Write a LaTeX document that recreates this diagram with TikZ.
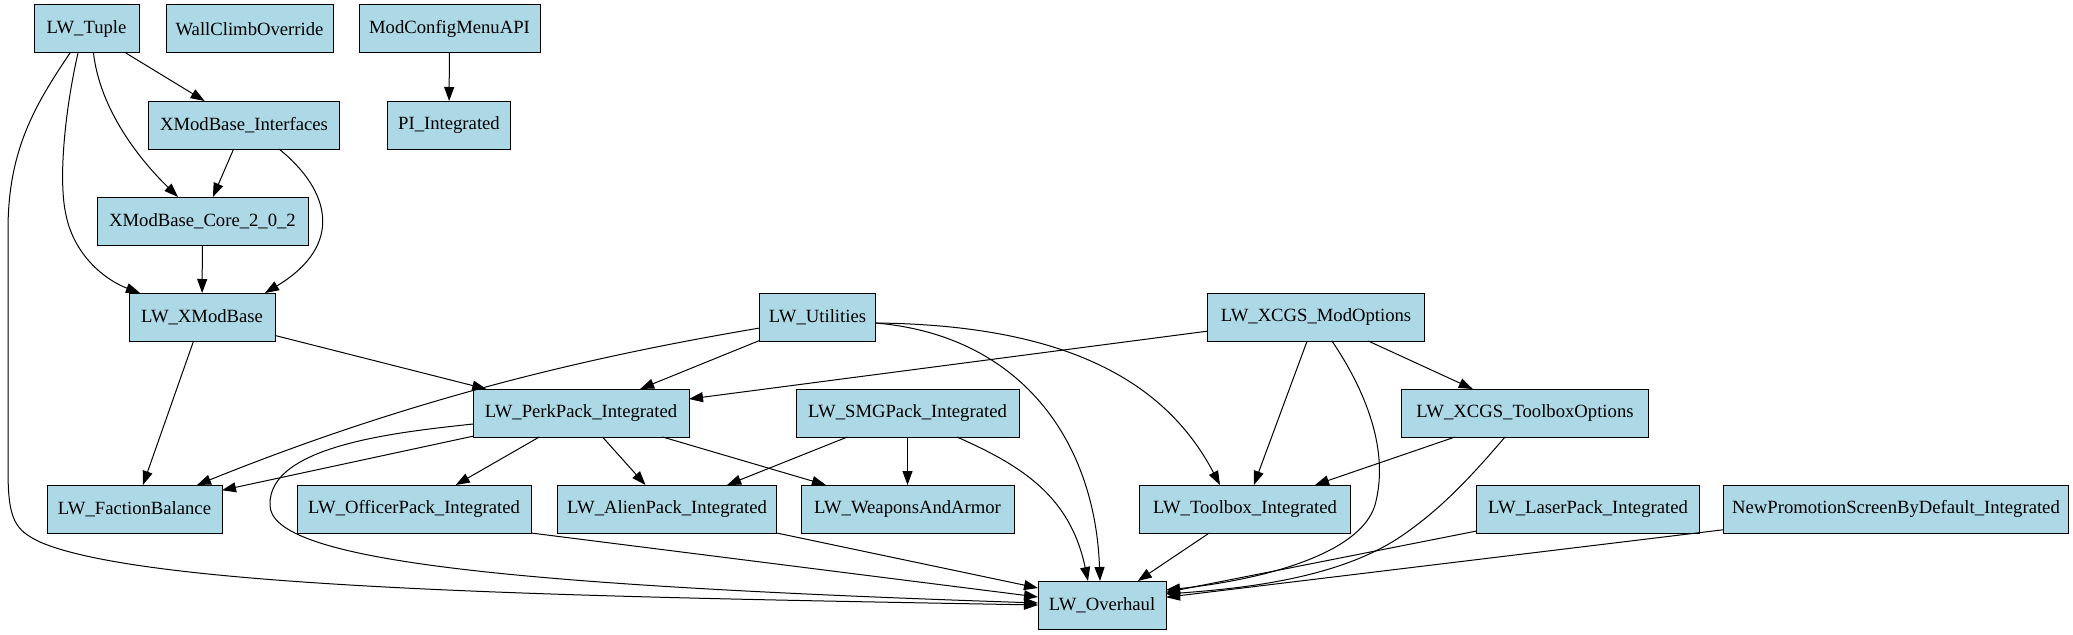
\documentclass[tikz,border=0pt]{standalone}
\usepackage{fontspec}
\setmainfont{Liberation Serif}
\usepackage{tikz}
\usetikzlibrary{
  calc,          % Offsets from anchors: ($(a.south)+(7,0)$)
  arrows.meta    % Graphviz-like filled arrow heads
}
\definecolor{nodeblue}{RGB}{173,216,230}
\tikzset{
  box/.style={draw, fill=nodeblue, line width=0.75pt, minimum width=#1*0.75pt,
    minimum height=36pt, inner xsep=2pt, inner ysep=0pt, outer sep=0pt,
    font=\fontsize{14}{16}\selectfont},
  dep/.style={-{Triangle[length=10.5pt,width=7.5pt]}, line width=0.75pt}
}

\begin{document}
\begin{tikzpicture}[x=0.75pt,y=-0.75pt]
        \useasboundingbox (0,0) rectangle (2073,635);

        % Packages (rank by rank)
        \node[box=105] (tuple) at (86.5,29) {LW\_Tuple};
        \node[box=167] (wallclimb) at (249.5,29) {WallClimbOverride};
        \node[box=181] (mcm) at (449.5,29) {ModConfigMenuAPI};
        \node[box=190.5] (interfaces) at (244,125) {XModBase\_Interfaces};
        \node[box=122.5] (pi) at (449,125) {PI\_Integrated};
        \node[box=211] (core) at (202.5,221) {XModBase\_Core\_2\_0\_2};
        \node[box=146] (xmodbase) at (202,317) {LW\_XModBase};
        \node[box=115.5] (utilities) at (817.5,317) {LW\_Utilities};
        \node[box=217.5] (modoptions) at (1316,317) {LW\_XCGS\_ModOptions};
        \node[box=216] (perkpack) at (581,413) {LW\_PerkPack\_Integrated};
        \node[box=223] (smgpack) at (907.5,413) {LW\_SMGPack\_Integrated};
        \node[box=247] (tbxoptions) at (1525,413) {LW\_XCGS\_ToolboxOptions};
        \node[box=175] (faction) at (134.5,509) {LW\_FactionBalance};
        \node[box=234] (officer) at (414,509) {LW\_OfficerPack\_Integrated};
        \node[box=219.5] (alien) at (667,509) {LW\_AlienPack\_Integrated};
        \node[box=213] (weapons) at (907.5,509) {LW\_WeaponsAndArmor};
        \node[box=211.5] (toolbox) at (1245,509) {LW\_Toolbox\_Integrated};
        \node[box=223] (laser) at (1588,509) {LW\_LaserPack\_Integrated};
        \node[box=345.5] (newpromo) at (1896,509) {NewPromotionScreenByDefault\_Integrated};
        \node[box=128] (overhaul) at (1102,605) {LW\_Overhaul};

        % Straight dependencies
        \draw[dep] (tuple) -- (interfaces);
        \draw[dep] (mcm) -- (pi);
        \draw[dep] (interfaces) -- (core);
        \draw[dep] (core) -- (xmodbase);
        \draw[dep] (xmodbase) -- (perkpack);
        \draw[dep] (xmodbase) -- (faction);
        \draw[dep] (utilities) -- (perkpack);
        \draw[dep] (modoptions) -- (perkpack);
        \draw[dep] (modoptions) -- (toolbox);
        \draw[dep] (modoptions) -- (tbxoptions);
        \draw[dep] (perkpack) -- (faction);
        \draw[dep] (perkpack) -- (officer);
        \draw[dep] (perkpack) -- (alien);
        \draw[dep] (perkpack) -- (weapons);
        \draw[dep] (smgpack) -- (alien);
        \draw[dep] (smgpack) -- (weapons);
        \draw[dep] (tbxoptions) -- (toolbox);
        \draw[dep] (toolbox) -- (overhaul);
        \draw[dep] (laser) -- (overhaul);
        \draw[dep] (newpromo) -- (overhaul);
        \draw[dep] (officer.south east) -- ($(overhaul.west)+(0,-8)$);
        \draw[dep] (alien.south east) -- ($(overhaul.west)+(0,-17)$);

        % Curved dependencies
        \draw[dep] ($(tuple.south)+(7,0)$) .. controls (100,110) and (140,160) .. ($(core.north)+(-24.5,0)$);
        \draw[dep] ($(tuple.south)+(-8.5,0)$) .. controls (65,110) and (58,180) .. (66,215)
            .. controls (74,255) and (105,280) .. ($(xmodbase.north)+(-62,0)$);
        \draw[dep] ($(tuple.south)+(-16.5,0)$) .. controls (35,105) and (8,150) .. (8,230) -- (8,470)
            .. controls (8,520) and (15,530) .. (40,542)
            .. controls (150,590) and (600,597) .. (overhaul.west);
        \draw[dep] ($(interfaces.south)+(35,0)$) .. controls (330,190) and (345,245) .. ($(xmodbase.north)+(63,0)$);
        \draw[dep] ($(utilities.west)+(0,11)$) .. controls (600,355) and (420,395) .. ($(faction.north)+(62.5,0)$);
        \draw[dep] ($(perkpack.west)+(0,11)$) .. controls (400,432) and (268,445) .. (270,505)
            .. controls (270,560) and (500,585) .. ($(overhaul.west)+(0,-2)$);
        \draw[dep] ($(utilities.east)+(0,6)$) .. controls (1020,335) and (1095,440) .. ($(overhaul.north)+(-2,0)$);
        \draw[dep] ($(utilities.east)+(0,6)$) .. controls (1080,325) and (1170,390) .. ($(toolbox.north)+(-25,0)$);
        \draw[dep] ($(smgpack.south)+(49.5,0)$) .. controls (1020,465) and (1070,495) .. ($(overhaul.north)+(-14,0)$);
        \draw[dep] ($(modoptions.south)+(16,0)$) .. controls (1365,390) and (1390,450) .. (1375,505)
            .. controls (1360,555) and (1260,580) .. ($(overhaul.east)+(0,-15)$);
        \draw[dep] ($(tbxoptions.south)+(-20,0)$) .. controls (1470,478) and (1440,510) .. (1400,537)
            .. controls (1340,577) and (1250,588) .. ($(overhaul.east)+(0,-11)$);
\end{tikzpicture}
\end{document}
